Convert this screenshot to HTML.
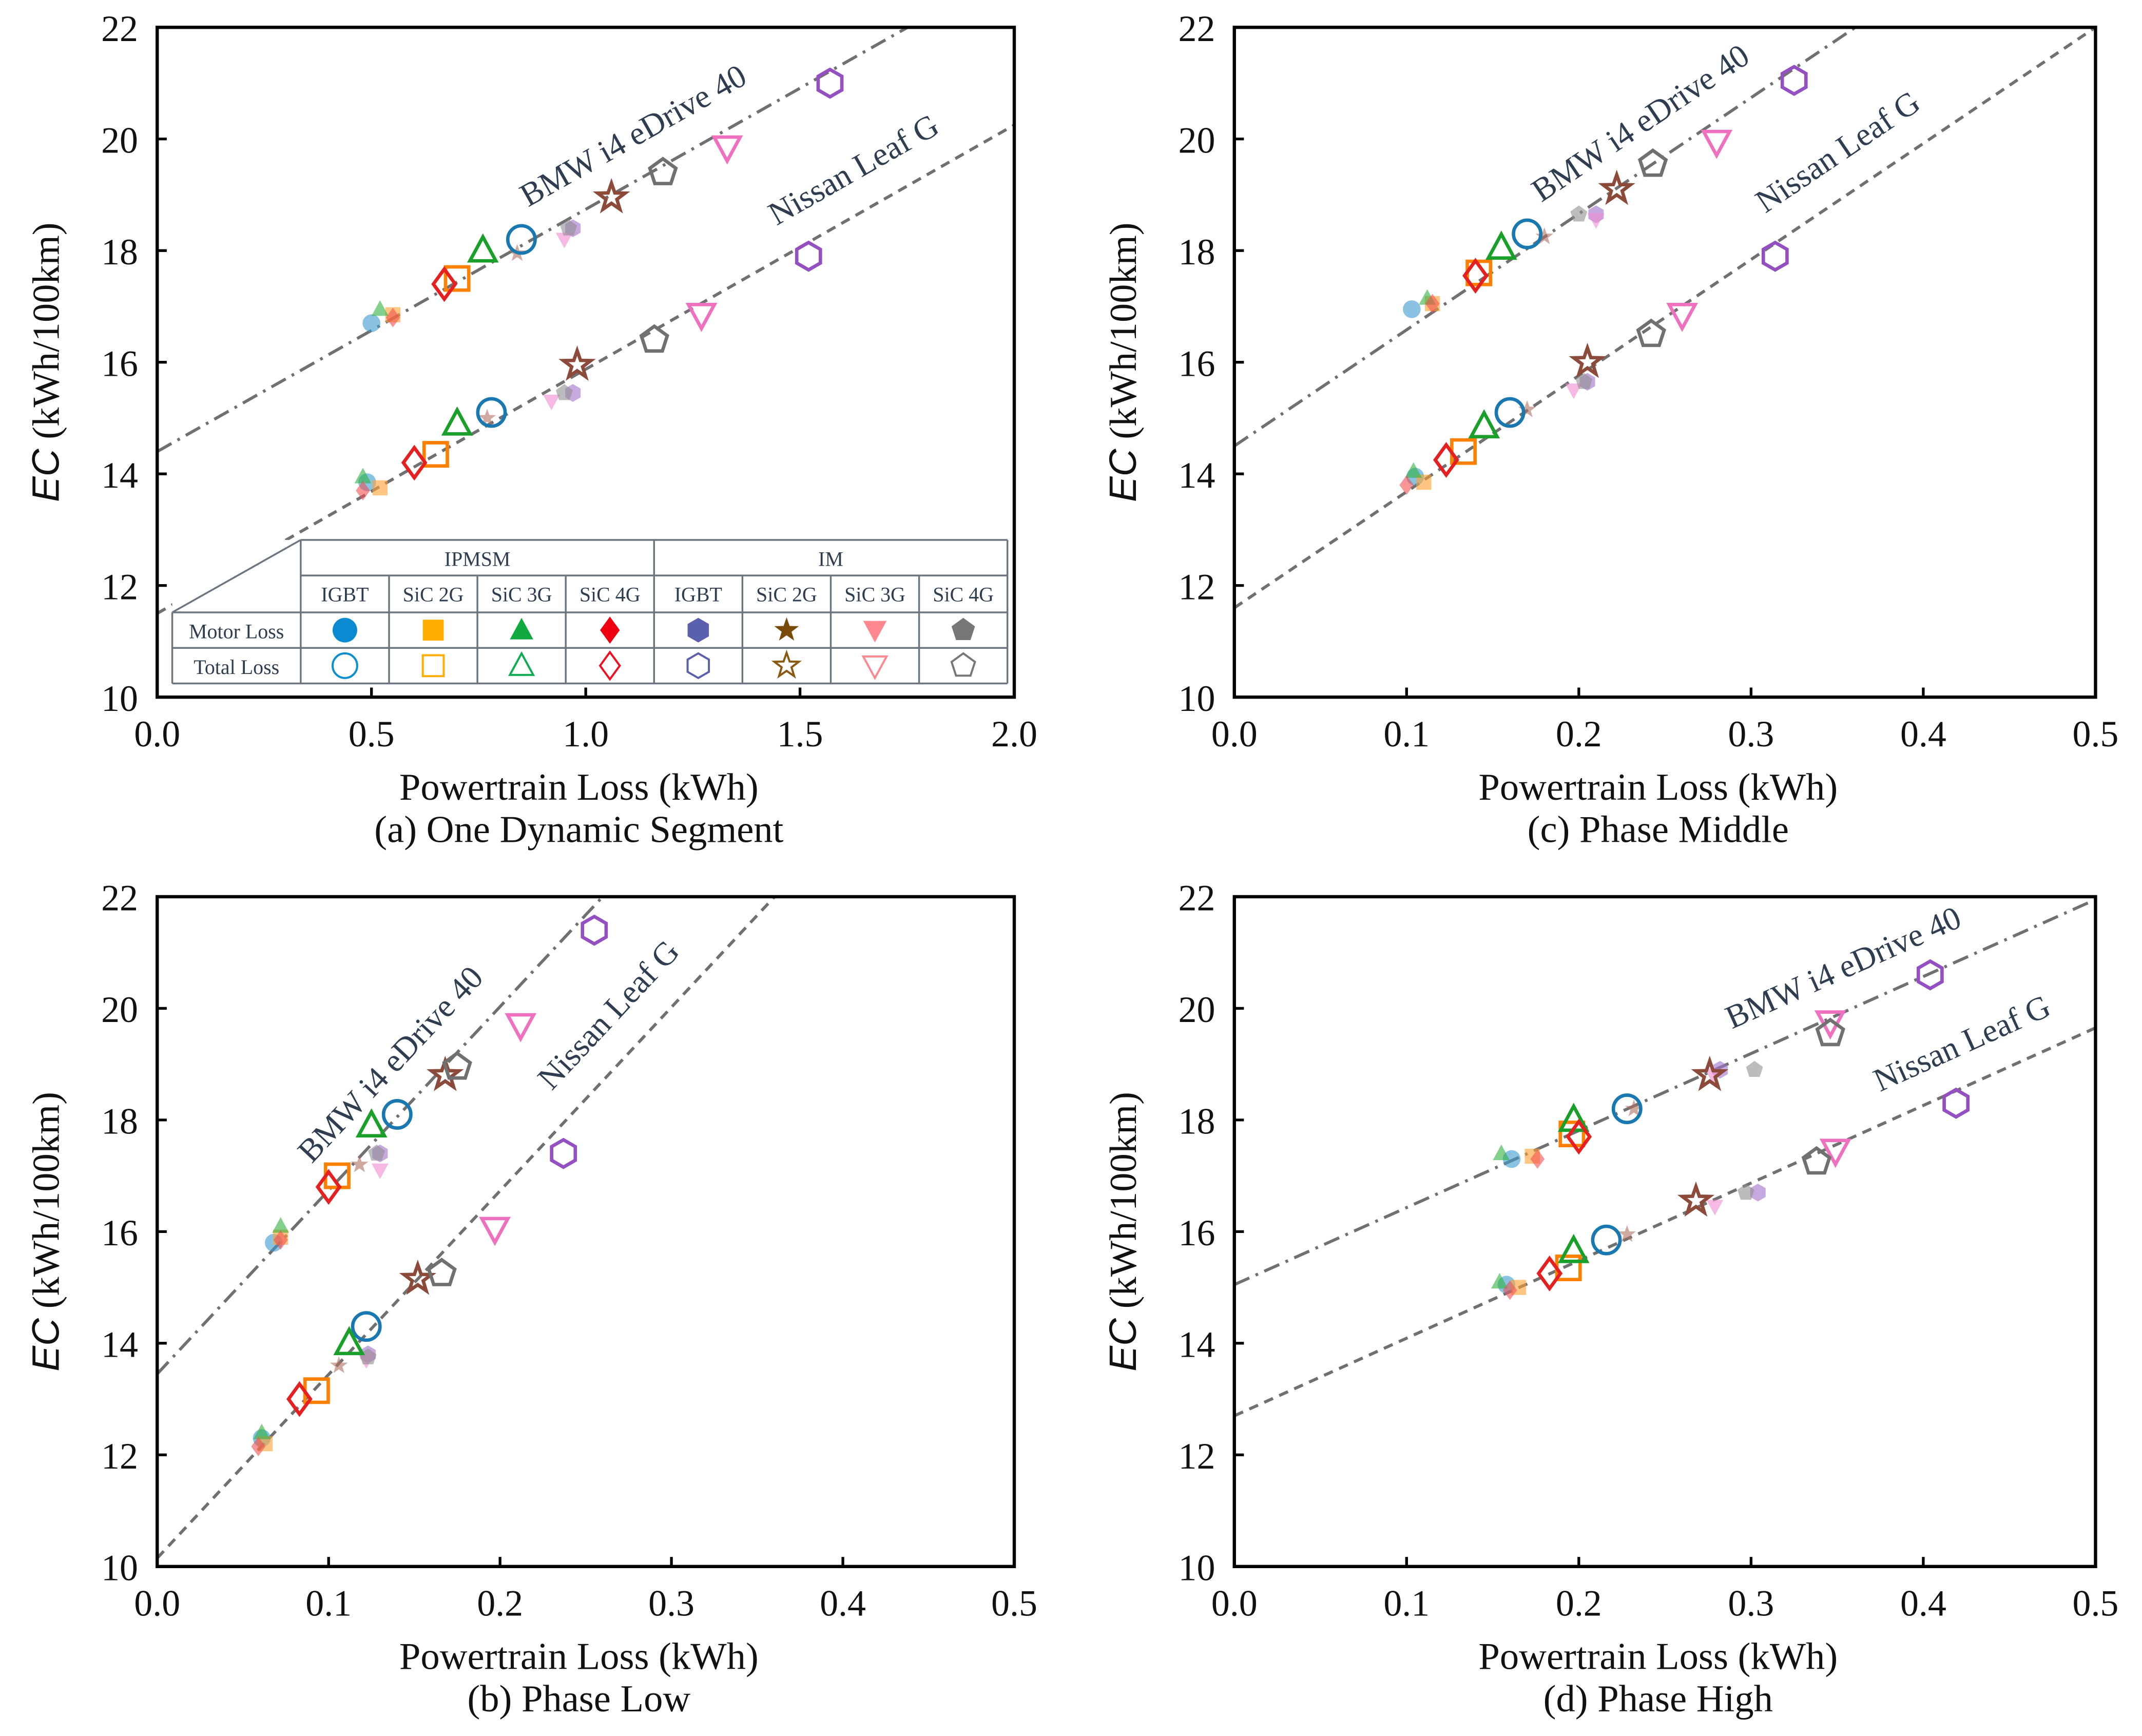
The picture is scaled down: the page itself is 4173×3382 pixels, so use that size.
<!DOCTYPE html>
<html><head><meta charset="utf-8">
<style>
html,body{margin:0;padding:0;background:#fff;}
svg{display:block;}
text{font-family:"Liberation Serif",serif;}
</style></head>
<body>
<svg id="fig" width="4173" height="3382" viewBox="0 0 1567 1270" preserveAspectRatio="none" xmlns="http://www.w3.org/2000/svg">
<rect width="1567" height="1270" fill="#fff"/>
</svg>
<script>
// ---- data ----
const types = ["circle","square","triangle","diamond","hexagon","star","downtri","pentagon"];
const yTicks = [10,12,14,16,18,20,22];
const xTicksA = [0.0,0.5,1.0,1.5,2.0];
const xTicksB = [0.0,0.1,0.2,0.3,0.4,0.5];
// panel a
const aBmwTotalX = [0.85,0.70,0.76,0.67,1.57,1.06,1.33,1.18];
const aBmwTotalY = [18.2,17.5,18.0,17.4,21.0,18.95,19.85,19.4];
const aBmwMotorX = [0.50,0.55,0.52,0.55,0.97,0.84,0.95,0.96];
const aBmwMotorY = [16.7,16.85,16.95,16.8,18.4,17.95,18.2,18.4];
const aNisTotalX = [0.78,0.65,0.70,0.60,1.52,0.98,1.27,1.16];
const aNisTotalY = [15.1,14.35,14.9,14.2,17.9,15.95,16.85,16.4];
const aNisMotorX = [0.49,0.52,0.48,0.48,0.97,0.77,0.92,0.95];
const aNisMotorY = [13.85,13.75,13.95,13.7,15.45,15.0,15.3,15.45];
// panel c
const cBmwTotalX = [0.170,0.142,0.155,0.140,0.325,0.222,0.280,0.243];
const cBmwTotalY = [18.3,17.6,18.05,17.55,21.05,19.1,19.95,19.55];
const cBmwMotorX = [0.103,0.115,0.112,0.115,0.210,0.180,0.210,0.200];
const cBmwMotorY = [16.95,17.05,17.15,17.05,18.65,18.25,18.55,18.65];
const cNisTotalX = [0.160,0.133,0.145,0.123,0.314,0.205,0.260,0.242];
const cNisTotalY = [15.1,14.4,14.85,14.25,17.9,16.0,16.85,16.5];
const cNisMotorX = [0.105,0.110,0.104,0.100,0.205,0.170,0.197,0.203];
const cNisMotorY = [13.95,13.85,14.05,13.8,15.65,15.15,15.5,15.65];
// panel b
const bBmwTotalX = [0.140,0.105,0.125,0.100,0.255,0.168,0.212,0.175];
const bBmwTotalY = [18.1,17.0,17.9,16.8,21.4,18.8,19.7,18.95];
const bBmwMotorX = [0.068,0.072,0.072,0.072,0.130,0.118,0.130,0.128];
const bBmwMotorY = [15.8,15.9,16.1,15.85,17.4,17.2,17.1,17.4];
const bNisTotalX = [0.122,0.093,0.112,0.083,0.237,0.152,0.197,0.166];
const bNisTotalY = [14.3,13.15,14.0,13.0,17.4,15.15,16.05,15.25];
const bNisMotorX = [0.061,0.063,0.061,0.059,0.123,0.106,0.122,0.123];
const bNisMotorY = [12.3,12.2,12.4,12.15,13.8,13.6,13.7,13.75];
// panel d
const dBmwTotalX = [0.228,0.196,0.197,0.200,0.404,0.276,0.346,0.346];
const dBmwTotalY = [18.2,17.75,18.0,17.7,20.6,18.8,19.75,19.55];
const dBmwMotorX = [0.161,0.173,0.155,0.176,0.282,0.232,0.278,0.302];
const dBmwMotorY = [17.3,17.35,17.4,17.3,18.9,18.2,18.8,18.9];
const dNisTotalX = [0.216,0.194,0.197,0.183,0.419,0.268,0.349,0.338];
const dNisTotalY = [15.85,15.35,15.65,15.25,18.3,16.55,17.45,17.25];
const dNisMotorX = [0.158,0.165,0.154,0.160,0.304,0.228,0.279,0.297];
const dNisMotorY = [15.05,15.0,15.1,14.95,16.7,15.95,16.45,16.7];
// fit lines [intercept, slope]
const aBmwFit = [14.4,4.34], aNisFit = [11.5,4.375];
const cBmwFit = [14.5,20.8], cNisFit = [11.6,20.8];
const bBmwFit = [13.45,32.9], bNisFit = [10.15,32.9];
const dBmwFit = [15.05,13.8], dNisFit = [12.7,13.9];
const labelStartX = {a:[0.90,1.48], c:[0.188,0.318], b:[0.103,0.243], d:[0.296,0.382]};

const NS="http://www.w3.org/2000/svg";
const svg=document.getElementById('fig');
function el(tag,attrs,parent){const e=document.createElementNS(NS,tag);for(const k in attrs)e.setAttribute(k,attrs[k]);(parent||svg).appendChild(e);return e;}

const totalCol=["#1a78b0","#ff8000","#1aa02a","#e52020","#9450c0","#8c4a3a","#f070c0","#707070"];
const motorCol=["#3a9ad0","#ffa030","#30b040","#f05050","#a070c8","#b07060","#f08ad0","#909090"];
const legMotorCol=["#0a8ad0","#ffad00","#10aa40","#ee0010","#5a5fae","#7a4a08","#ff8890","#777777"];
const legTotalCol=["#0a90d0","#ffad00","#10aa50","#ee1020","#5a5fae","#8a5a10","#ff8890","#777777"];

function shapePath(type,cx,cy,r,sx){
  sx=sx||1;
  const P=(pts)=>"M"+pts.map(p=>(cx+p[0]*sx).toFixed(2)+","+(cy+p[1]).toFixed(2)).join("L")+"Z";
  const poly=(n,rot,rr)=>{const a=[];for(let i=0;i<n;i++){const t=rot+i*2*Math.PI/n;a.push([rr*Math.cos(t),rr*Math.sin(t)]);}return a;};
  switch(type){
    case "circle": return null;
    case "square": return P([[-r*0.85,-r*0.85],[r*0.85,-r*0.85],[r*0.85,r*0.85],[-r*0.85,r*0.85]]);
    case "triangle": return P([[0,-r],[r*0.95,r*0.75],[-r*0.95,r*0.75]]);
    case "downtri": return P([[0,r],[r*0.95,-r*0.75],[-r*0.95,-r*0.75]]);
    case "diamond": return P([[0,-r*1.1],[r*0.8,0],[0,r*1.1],[-r*0.8,0]]);
    case "hexagon": return P(poly(6,-Math.PI/2,r));
    case "pentagon": return P(poly(5,-Math.PI/2,r));
    case "star":{const a=[];for(let i=0;i<10;i++){const t=-Math.PI/2+i*Math.PI/5;const rr=i%2?r*0.42:r*1.05;a.push([rr*Math.cos(t),rr*Math.sin(t)]);}return P(a);}
  }
}
function marker(type,cx,cy,r,fill,stroke,sw,op,g,name,sx){
  sx=sx||1;
  let m;
  if(type==="circle") m=el('ellipse',{cx:cx,cy:cy,rx:r*sx,ry:r,fill:fill,stroke:stroke,'stroke-width':sw,opacity:op},g);
  else m=el('path',{d:shapePath(type,cx,cy,r,sx),fill:fill,stroke:stroke,'stroke-width':sw,opacity:op,'stroke-linejoin':'miter'},g);
  
  
  return m;
}

function panel(id,L,R,T,B,xmax,xticks,xfmt,series,fits,lbl,caption){
  const g=el('g',{});
  
  
  const X=v=>L+(v/xmax)*(R-L);
  const Y=v=>B-(v-10)/12*(B-T);
  const clip=el('clipPath',{id:'clip'+id},g);
  el('rect',{x:L,y:T,width:R-L,height:B-T},clip);
  const dashes=["12,5,2,5","7,5"];
  const names=["BMW i4 eDrive 40","Nissan Leaf G"];
  fits.forEach((f,i)=>{
    const ln=el('line',{x1:X(0),y1:Y(f[0]),x2:X(xmax),y2:Y(f[0]+f[1]*xmax),stroke:'#707070','stroke-width':2.2,'stroke-dasharray':dashes[i],'clip-path':'url(#clip'+id+')'},g);
    
    
    const sx=lbl[i];
    const px=X(sx), py=Y(f[0]+f[1]*sx);
    const dx=(R-L)/xmax, dy=f[1]*(B-T)/12;
    const ang=Math.atan2(-dy,dx);
    const ox=Math.sin(ang)*22, oy=-Math.cos(ang)*22;
    const t=el('text',{x:0,y:0,'font-size':24,fill:'#2e3e50',transform:`translate(${px+ox},${py+oy}) rotate(${ang*180/Math.PI})`},g);
    t.textContent=names[i];
    
    
  });
  series.forEach(s=>{
    for(let k=0;k<8;k++){
      if(s.motor) marker(types[k],X(s.x[k]),Y(s.y[k]),6.5,motorCol[k],'none',0,0.6,g,s.name+'-'+types[k]);
      else marker(types[k],X(s.x[k]),Y(s.y[k]),10,'none',totalCol[k],2.5,1,g,s.name+'-'+types[k]);
    }
  });
  const fr=el('rect',{x:L,y:T,width:R-L,height:B-T,fill:'none',stroke:'#000','stroke-width':2.4},g);
  
  
  xticks.forEach(v=>{
    el('line',{x1:X(v),y1:B,x2:X(v),y2:B-7,stroke:'#000','stroke-width':2},g);
    const t=el('text',{x:X(v),y:B+36,'font-size':27,'text-anchor':'middle',fill:'#111'},g);
    t.textContent=v.toFixed(1);
    
    
  });
  yTicks.forEach(v=>{
    el('line',{x1:L,y1:Y(v),x2:L+7,y2:Y(v),stroke:'#000','stroke-width':2},g);
    const t=el('text',{x:L-14,y:Y(v)+10,'font-size':27,'text-anchor':'end',fill:'#111'},g);
    t.textContent=v;
    
    
  });
  const xl=el('text',{x:(L+R)/2-5,y:B+75,'font-size':28,'text-anchor':'middle',fill:'#111','font-family':'Liberation Sans, sans-serif'},g);
  xl.textContent='Powertrain Loss (kWh)';
  
  
  const cp=el('text',{x:(L+R)/2-5,y:B+106,'font-size':28,'text-anchor':'middle',fill:'#111'},g);
  cp.textContent=caption;
  
  
  const yl=el('text',{x:0,y:0,'font-size':28,'text-anchor':'middle',fill:'#111',transform:`translate(${L-72},${(T+B)/2}) rotate(-90)`},g);
  yl.innerHTML='<tspan font-style="italic" font-family="Liberation Sans, sans-serif">EC</tspan> (kWh/100km)';
  
  
  return g;
}
const f1=v=>v.toFixed(1);
panel('a',115,742,20,510,2.0,xTicksA,f1,[
  {x:aBmwMotorX,y:aBmwMotorY,motor:true,name:'bmw-motor'},{x:aNisMotorX,y:aNisMotorY,motor:true,name:'nissan-motor'},
  {x:aBmwTotalX,y:aBmwTotalY,motor:false,name:'bmw-total'},{x:aNisTotalX,y:aNisTotalY,motor:false,name:'nissan-total'}],
  [aBmwFit,aNisFit],labelStartX.a,'(a) One Dynamic Segment');
panel('c',903,1533,20,510,0.5,xTicksB,f1,[
  {x:cBmwMotorX,y:cBmwMotorY,motor:true,name:'bmw-motor'},{x:cNisMotorX,y:cNisMotorY,motor:true,name:'nissan-motor'},
  {x:cBmwTotalX,y:cBmwTotalY,motor:false,name:'bmw-total'},{x:cNisTotalX,y:cNisTotalY,motor:false,name:'nissan-total'}],
  [cBmwFit,cNisFit],labelStartX.c,'(c) Phase Middle');
panel('b',115,742,656,1146,0.5,xTicksB,f1,[
  {x:bBmwMotorX,y:bBmwMotorY,motor:true,name:'bmw-motor'},{x:bNisMotorX,y:bNisMotorY,motor:true,name:'nissan-motor'},
  {x:bBmwTotalX,y:bBmwTotalY,motor:false,name:'bmw-total'},{x:bNisTotalX,y:bNisTotalY,motor:false,name:'nissan-total'}],
  [bBmwFit,bNisFit],labelStartX.b,'(b) Phase Low');
panel('d',903,1533,656,1146,0.5,xTicksB,f1,[
  {x:dBmwMotorX,y:dBmwMotorY,motor:true,name:'bmw-motor'},{x:dNisMotorX,y:dNisMotorY,motor:true,name:'nissan-motor'},
  {x:dBmwTotalX,y:dBmwTotalY,motor:false,name:'bmw-total'},{x:dNisTotalX,y:dNisTotalY,motor:false,name:'nissan-total'}],
  [dBmwFit,dNisFit],labelStartX.d,'(d) Phase High');

(function(){
  const g=el('g',{});
  
  
  const x0=126,x1=220,x2=737, r0=395,r1=421,r2=448,r3=474,r4=500;
  el('rect',{x:x0,y:r0,width:x2-x0,height:r4-r0,fill:'#fff',stroke:'none'},g);
  const st={stroke:'#6a7580','stroke-width':1.3};
  const L=(a,b,c,d)=>el('line',Object.assign({x1:a,y1:b,x2:c,y2:d},st),g);
  L(x1,r0,x2,r0);L(x1,r1,x2,r1);L(x0,r2,x2,r2);L(x0,r3,x2,r3);L(x0,r4,x2,r4);
  L(x0,r2,x0,r4);L(x1,r0,x1,r4);L(x2,r0,x2,r4);L(x0,r2,x1,r0);
  const cw=(x2-x1)/8;
  for(let i=1;i<8;i++){ L(x1+i*cw, i===4?r0:r1, x1+i*cw, r4); }
  const T=(x,y,s,txt,name)=>{const t=el('text',{x:x,y:y,'font-size':s,'text-anchor':'middle',fill:'#2e3e50'},g);t.textContent=txt;};
  T(x1+2*cw,r1-7,15,'IPMSM','legend-group-ipmsm');
  T(x1+6*cw,r1-7,15,'IM','legend-group-im');
  const hdr=["IGBT","SiC 2G","SiC 3G","SiC 4G","IGBT","SiC 2G","SiC 3G","SiC 4G"];
  hdr.forEach((h,i)=>T(x1+(i+0.5)*cw,r2-8,15,h,'legend-col-header'));
  T((x0+x1)/2,r3-7,15,'Motor Loss','legend-row-motor');
  T((x0+x1)/2,r4-7,15,'Total Loss','legend-row-total');
  for(let i=0;i<8;i++){
    const cx=x1+(i+0.5)*cw;
    marker(types[i],cx,(r2+r3)/2,9,legMotorCol[i],'none',0,1,g,'legend-entry-motor');
    marker(types[i],cx,(r3+r4)/2,9,'none',legTotalCol[i],1.5,1,g,'legend-entry-total');
  }
})();
</script>
</body></html>
